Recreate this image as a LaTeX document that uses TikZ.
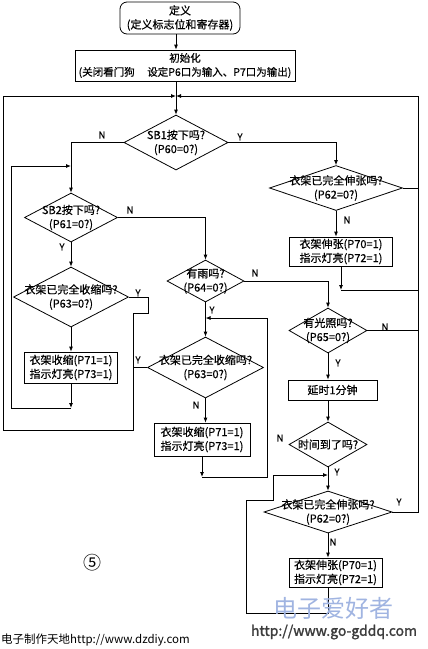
\documentclass[tikz,border=0pt]{standalone}
\usepackage{fontspec}
\setmainfont{Noto Sans CJK SC}[FakeBold=0.6]
\newfontfamily\plainfont{Noto Sans CJK SC}
\newfontfamily\heavyfont{Noto Sans CJK SC}[FakeBold=1.6]
\usetikzlibrary{shapes.geometric,arrows.meta}
\definecolor{wmblue}{RGB}{160,180,225}
\definecolor{wmgray}{RGB}{60,60,60}
\begin{document}
\begin{tikzpicture}[x=1pt,y=-1pt,
  every node/.style={font=\fontsize{11}{14}\selectfont, inner sep=0pt},
  box/.style={draw, rectangle, line width=0.8pt, align=center},
  dia/.style={draw, diamond, line width=0.8pt, inner sep=0pt},
  txt/.style={align=center},
  lbl/.style={font=\fontsize{9.5}{10}\selectfont},
  ln/.style={line width=0.8pt},
  arr/.style={ln, -{Latex[length=5pt,width=4pt]}}
]
\useasboundingbox (0,0) rectangle (428,649);

% boxes
\node[box, rounded corners=7pt, minimum width=120pt, minimum height=32pt] (def) at (180,18) {定义\\(定义标志位和寄存器)};
\node[box, minimum width=220pt, minimum height=31pt, font=\fontsize{10.5}{14}\selectfont] (init) at (185,65.5) {初始化\\(关闭看门狗\hspace{1.2em}设定P6口为输入、P7口为输出)};

% diamonds
\node[dia, minimum width=104pt, minimum height=55pt] (sb1) at (176,142.5) {};
\node[txt] (sb1t) at (sb1) {SB1按下吗?\\(P60=0?)};
\node[dia, minimum width=133pt, minimum height=45pt] (d62a) at (336,188) {};
\node[txt] (d62at) at (d62a) {衣架已完全伸张吗?\\(P62=0?)};
\node[box, minimum width=103pt, minimum height=29pt] (b70a) at (341,251.5) {衣架伸张(P70=1)\\指示灯亮(P72=1)};
\node[dia, minimum width=93pt, minimum height=49pt] (sb2) at (71,217.5) {};
\node[txt] (sb2t) at (sb2) {SB2按下吗?\\(P61=0?)};
\node[dia, minimum width=115pt, minimum height=60pt] (d63a) at (71,297) {};
\node[txt] (d63at) at (d63a) {衣架已完全收缩吗?\\(P63=0?)};
\node[box, minimum width=93pt, minimum height=31pt] (b71a) at (71,367.5) {衣架收缩(P71=1)\\指示灯亮(P73=1)};
\node[dia, minimum width=77pt, minimum height=42pt] (rain) at (205.5,281) {};
\node[txt] (raint) at (rain) {有雨吗?\\(P64=0?)};
\node[dia, minimum width=116pt, minimum height=61pt] (d63b) at (205.5,367.5) {};
\node[txt] (d63bt) at (d63b) {衣架已完全收缩吗?\\(P63=0?)};
\node[box, minimum width=96pt, minimum height=33pt] (b71b) at (202,439.5) {衣架收缩(P71=1)\\指示灯亮(P73=1)};
\node[dia, minimum width=78pt, minimum height=45pt] (light) at (328,330.5) {};
\node[txt] (lightt) at (light) {有光照吗?\\(P65=0?)};
\node[box, minimum width=89pt, minimum height=20pt] (delay) at (332.5,390) {延时1分钟};
\node[dia, minimum width=78pt, minimum height=45pt] (time) at (328,444.5) {};
\node[txt] (timet) at (time) {时间到了吗?};
\node[dia, minimum width=128pt, minimum height=42pt] (d62b) at (328,512) {};
\node[txt] (d62bt) at (d62b) {衣架已完全伸张吗?\\(P62=0?)};
\node[box, minimum width=93pt, minimum height=29pt] (b70b) at (335.5,572.5) {衣架伸张(P70=1)\\指示灯亮(P72=1)};

% coordinates
\coordinate (m0) at (176,96);
\coordinate (a1) at (148,297);
\coordinate (a2) at (148,313);
\coordinate (a3) at (133,313);
\coordinate (a4) at (133,430);
\coordinate (a5) at (3,430);
\coordinate (a6) at (3,96);
\coordinate (c1) at (71,408);
\coordinate (c2) at (11,408);
\coordinate (c3) at (11,166);
\coordinate (c4) at (71,166);
\coordinate (r1) at (418,512);
\coordinate (r2) at (418,96);
\coordinate (e1) at (341,290);
\coordinate (f1) at (202,477);
\coordinate (f2) at (267,477);
\coordinate (f3) at (267,318);
\coordinate (f4) at (205.5,318);
\coordinate (g1) at (328,613);
\coordinate (g2) at (246,613);
\coordinate (g3) at (246,500);
\coordinate (g4) at (273,500);
\coordinate (g5) at (273,475);
\coordinate (g6) at (328,475);

% connectors
\draw[arr] (def.south -| sb1.north) -- (init.north -| sb1.north);
\draw[arr] (init.south -| sb1.north) -- (sb1.north);
\draw[arr] (d63a.east) -- (a1) -- (a2) -- (a3) -- (a4) -- (a5) -- (a6) -- (m0);
\draw[ln] (d63b.west) -- (d63b.west -| a4);
\draw[arr] (b71a.south) -- (c1);
\draw[arr] (c1) -- (c2) -- (c3) -- (c4);
\draw[arr] (sb1.west) -| (sb2.north);
\draw[arr] (d62b.east) -- (r1) -- (r2) -- (m0);
\draw[ln] (d62a.east) -- (d62a.east -| r1);
\draw[ln] (light.east) -- (light.east -| r1);
\draw[arr] (b70a.south) -- (e1);
\draw[ln] (e1) -- (e1 -| r1);
\draw[arr] (sb1.east) -| (d62a.north);
\draw[arr] (d62a.south) -- (d62a.south |- b70a.north);
\draw[arr] (sb2.south) -- (d63a.north);
\draw[arr] (sb2.east) -| (rain.north);
\draw[arr] (d63a.south) -- (b71a.north);
\draw[arr] (rain.south) -- (d63b.north);
\draw[arr] (d63b.south) -- (d63b.south |- b71b.north);
\draw[arr] (b71b.south) -- (f1);
\draw[arr] (f1) -- (f2) -- (f3) -- (f4);
\draw[arr] (rain.east) -| (light.north);
\draw[arr] (light.south) -- (light.south |- delay.north);
\draw[arr] (time.north |- delay.south) -- (time.north);
\draw[arr] (time.south) -- (d62b.north);
\draw[arr] (d62b.south) -- (d62b.south |- b70b.north);
\draw[arr] (d62b.south |- b70b.south) -- (g1) -- (g2) -- (g3) -- (g4) -- (g5) -- (g6);

% labels
\node[lbl] (l1) at (240,137) {Y};
\node[lbl] (l2) at (102,135) {N};
\node[lbl] (l3) at (347,220) {N};
\node[lbl] (l4) at (130,210) {N};
\node[lbl] (l5) at (62,247) {Y};
\node[lbl] (l6) at (138,293) {Y};
\node[lbl] (l7) at (138,360) {Y};
\node[lbl] (l8) at (212,310) {Y};
\node[lbl] (l9) at (255,273) {N};
\node[lbl] (l10) at (196,405) {N};
\node[lbl] (l11) at (385,327) {N};
\node[lbl] (l12) at (338,363) {Y};
\node[lbl] (l13) at (280,438) {N};
\node[lbl] (l14) at (337,472) {Y};
\node[lbl] (l15) at (399,502) {Y};
\node[lbl] (l16) at (333,542) {N};

% extra texts
\node (num) at (92,563) {\plainfont\fontsize{18}{18}\selectfont ⑤};
\node[anchor=west] (foot) at (1,640) {\plainfont\fontsize{11.5}{12}\selectfont 电子制作天地http://www.dzdiy.com};
\node (wm1) at (333,608) {\plainfont\color{wmblue}\fontsize{24}{24}\selectfont 电子爱好者};
\node (wm2) at (334,632) {\heavyfont\color{wmgray}\fontsize{14}{14}\selectfont http://www.go-gddq.com};
\end{tikzpicture}
\end{document}
